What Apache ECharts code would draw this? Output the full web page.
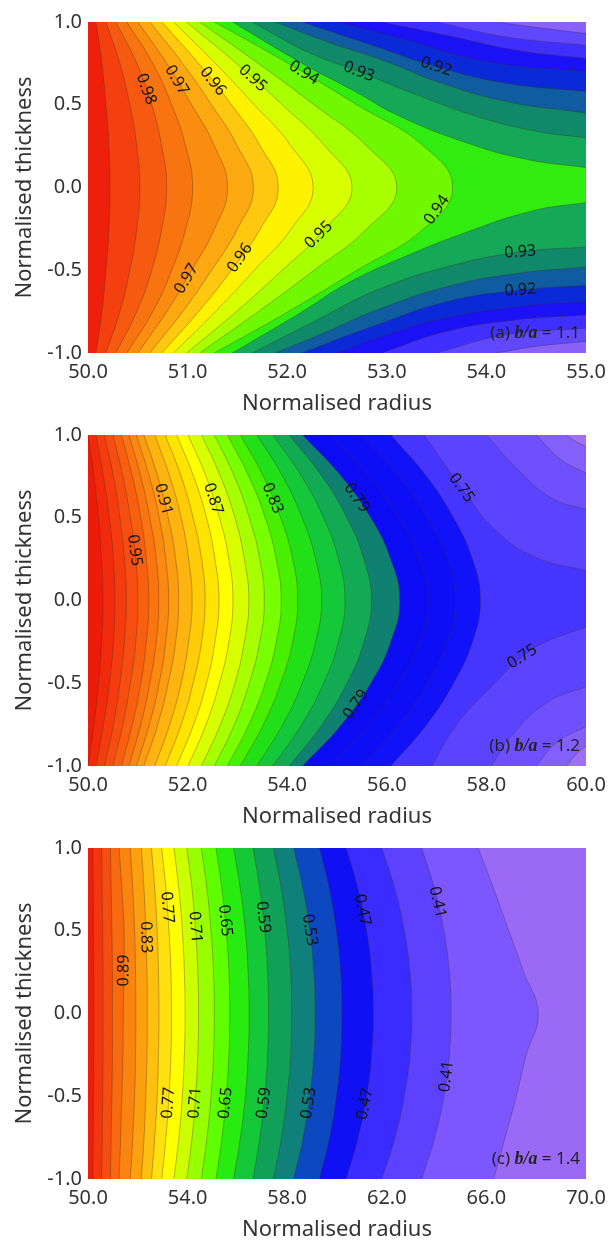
<!DOCTYPE html>
<html><head><meta charset="utf-8">
<script src="https://cdn.jsdelivr.net/npm/echarts@6/dist/echarts.min.js"></script>
<style>html,body{margin:0;padding:0;background:#fff}#c{width:609px;height:1247px}</style>
</head><body><div id="c"></div>
<script>
// ---------- data ----------
const yRows = [1, 0.75, 0.5, 0.25, 0, -0.25, -0.5, -0.75, -1];
const yTicks = [-1, -0.5, 0, 0.5, 1];

// (a) b/a = 1.1
const xTicksA = [50, 51, 52, 53, 54, 55];
const levelsA = [0.99, 0.985, 0.98, 0.975, 0.97, 0.965, 0.96, 0.955, 0.95, 0.945, 0.94, 0.935, 0.93, 0.925, 0.92, 0.915, 0.91, 0.905, 0.90];
const linesA = [
  [50.08, 50.14, 50.18, 50.21, 50.22, 50.21, 50.18, 50.14, 50.08],
  [50.18, 50.32, 50.42, 50.49, 50.52, 50.49, 50.42, 50.32, 50.18],
  [50.28, 50.49, 50.64, 50.74, 50.79, 50.74, 50.64, 50.49, 50.28],
  [50.39, 50.65, 50.84, 50.98, 51.05, 50.98, 50.84, 50.65, 50.39],
  [50.50, 50.79, 51.04, 51.27, 51.40, 51.27, 51.04, 50.79, 50.50],
  [50.62, 50.95, 51.24, 51.50, 51.66, 51.50, 51.24, 50.95, 50.62],
  [50.74, 51.11, 51.44, 51.73, 51.91, 51.73, 51.44, 51.11, 50.74],
  [50.86, 51.28, 51.67, 52.04, 52.26, 52.04, 51.67, 51.28, 50.86],
  [50.99, 51.49, 51.95, 52.38, 52.65, 52.38, 51.95, 51.49, 50.99],
  [51.12, 51.71, 52.27, 52.80, 53.10, 52.80, 52.27, 51.71, 51.12],
  [51.27, 52.01, 52.70, 53.37, 53.66, 53.37, 52.70, 52.01, 51.27],
  [[[51.45, 1], [52.15, 0.75], [52.65, 0.59], [53.13, 0.43], [53.8, 0.27], [54.4, 0.17], [55, 0.12]],
   [[55, -0.09], [54.47, -0.14], [53.8, -0.27], [53.13, -0.43], [52.6, -0.58], [52.15, -0.75], [51.45, -1]]],
  [[[51.65, 1], [52.2, 0.82], [52.72, 0.70], [53.3, 0.56], [53.9, 0.43], [54.5, 0.34], [55, 0.30]],
   [[55, -0.36], [54.34, -0.39], [53.6, -0.48], [52.9, -0.62], [52.3, -0.8], [51.65, -1]]],
  [[[51.88, 1], [52.4, 0.88], [53.0, 0.76], [53.5, 0.64], [54.2, 0.52], [55, 0.45]],
   [[55, -0.48], [54.3, -0.52], [53.6, -0.60], [52.9, -0.74], [52.4, -0.87], [51.88, -1]]],
  [[[52.15, 1], [52.8, 0.87], [53.5, 0.73], [54.2, 0.63], [55, 0.58]],
   [[55, -0.59], [54.34, -0.62], [53.6, -0.69], [52.9, -0.83], [52.15, -1]]],
  [[[52.5, 1], [53.2, 0.89], [54.0, 0.76], [55, 0.70]],
   [[55, -0.69], [54.3, -0.72], [53.5, -0.80], [52.9, -0.91], [52.5, -1]]],
  [[[52.95, 1], [53.6, 0.92], [54.3, 0.83], [55, 0.78]],
   [[55, -0.77], [54.3, -0.80], [53.6, -0.87], [52.95, -1]]],
  [[[53.5, 1], [54.2, 0.91], [55, 0.86]],
   [[55, -0.85], [54.2, -0.89], [53.5, -1]]],
  [[[54.1, 1], [54.6, 0.96], [55, 0.93]],
   [[55, -0.93], [54.5, -0.96], [54.1, -1]]]
];
const labelsA = [['0.98', 50.52, 0.58], ['0.97', 50.84, 0.63], ['0.96', 51.23, 0.63], ['0.95', 51.64, 0.65],
  ['0.94', 52.15, 0.675], ['0.93', 52.72, 0.70], ['0.92', 53.49, 0.72], ['0.97', 50.93, -0.53],
  ['0.96', 51.56, -0.44], ['0.95', 52.37, -0.32], ['0.94', 53.53, -0.147], ['0.93', 54.34, -0.39], ['0.92', 54.34, -0.61]];

// (b) b/a = 1.2
const xTicksB = [50, 52, 54, 56, 58, 60];
const levelsB = [0.98, 0.97, 0.96, 0.95, 0.94, 0.93, 0.92, 0.91, 0.90, 0.89, 0.88, 0.87, 0.86, 0.85, 0.84, 0.83, 0.82, 0.81, 0.80, 0.79, 0.78, 0.77, 0.76, 0.75, 0.74, 0.73, 0.72];
const linesB = [
  [50.00, 50.12, 50.21, 50.27, 50.30, 50.27, 50.21, 50.12, 50.00],
  [50.16, 50.31, 50.43, 50.51, 50.54, 50.51, 50.43, 50.31, 50.16],
  [50.33, 50.51, 50.64, 50.73, 50.77, 50.73, 50.64, 50.51, 50.33],
  [50.50, 50.70, 50.85, 50.96, 51.00, 50.96, 50.85, 50.70, 50.50],
  [50.67, 50.89, 51.06, 51.17, 51.22, 51.17, 51.06, 50.89, 50.67],
  [50.82, 51.06, 51.24, 51.37, 51.42, 51.37, 51.24, 51.06, 50.82],
  [50.97, 51.23, 51.43, 51.56, 51.62, 51.56, 51.43, 51.23, 50.97],
  [51.12, 51.40, 51.61, 51.76, 51.82, 51.76, 51.61, 51.40, 51.12],
  [51.34, 51.64, 51.87, 52.02, 52.09, 52.02, 51.87, 51.64, 51.34],
  [51.55, 51.87, 52.11, 52.28, 52.35, 52.28, 52.11, 51.87, 51.55],
  [51.78, 52.12, 52.38, 52.55, 52.63, 52.55, 52.38, 52.12, 51.78],
  [52.01, 52.37, 52.64, 52.83, 52.91, 52.83, 52.64, 52.37, 52.01],
  [52.28, 52.66, 52.95, 53.14, 53.23, 53.14, 52.95, 52.66, 52.28],
  [52.54, 52.94, 53.24, 53.45, 53.54, 53.45, 53.24, 52.94, 52.54],
  [52.80, 53.23, 53.56, 53.78, 53.88, 53.78, 53.56, 53.23, 52.80],
  [53.06, 53.52, 53.87, 54.11, 54.21, 54.11, 53.87, 53.52, 53.06],
  [53.39, 53.91, 54.30, 54.57, 54.69, 54.57, 54.30, 53.91, 53.39],
  [53.71, 54.29, 54.73, 55.03, 55.16, 55.03, 54.73, 54.29, 53.71],
  [54.04, 54.70, 55.20, 55.54, 55.69, 55.54, 55.20, 54.70, 54.04],
  [54.31, 55.09, 55.68, 56.08, 56.26, 56.08, 55.68, 55.09, 54.31],
  [54.83, 55.63, 56.23, 56.65, 56.83, 56.65, 56.23, 55.63, 54.83],
  [55.48, 56.24, 56.81, 57.21, 57.38, 57.21, 56.81, 56.24, 55.48],
  [56.08, 56.80, 57.34, 57.72, 57.88, 57.72, 57.34, 56.80, 56.08],
  [[[56.75, 1], [57.1, 0.85], [57.5, 0.68], [58.2, 0.42], [59.0, 0.26], [60, 0.18]],
   [[60, -0.16], [59.2, -0.25], [58.72, -0.34], [58.1, -0.52], [57.4, -0.75], [56.9, -1]]],
  [[[58.0, 1], [58.6, 0.80], [59.3, 0.62], [60, 0.55]],
   [[60, -0.52], [59.2, -0.62], [58.5, -0.82], [58.1, -1]]],
  [[[59.0, 1], [59.5, 0.85], [60, 0.77]],
   [[60, -0.76], [59.4, -0.86], [59.0, -1]]],
  [[[59.6, 1], [59.8, 0.96], [60, 0.93]],
   [[60, -0.88], [59.8, -0.93], [59.6, -1]]]
];
const labelsB = [['0.95', 50.86, 0.30], ['0.91', 51.50, 0.61], ['0.87', 52.47, 0.61], ['0.83', 53.65, 0.61],
  ['0.79', 55.30, 0.60], ['0.75', 57.50, 0.68], ['0.79', 55.25, -0.60], ['0.75', 58.72, -0.34]];

// (c) b/a = 1.4
const xTicksC = [50, 54, 58, 62, 66, 70];
const levelsC = [0.98, 0.95, 0.92, 0.89, 0.86, 0.83, 0.80, 0.77, 0.74, 0.71, 0.68, 0.65, 0.62, 0.59, 0.56, 0.53, 0.50, 0.47, 0.44, 0.41, 0.38];
const linesC = [
  [50.20, 50.21, 50.22, 50.23, 50.23, 50.23, 50.22, 50.21, 50.20],
  [50.55, 50.57, 50.59, 50.60, 50.60, 50.60, 50.59, 50.57, 50.55],
  [50.90, 50.93, 50.96, 50.98, 50.98, 50.98, 50.96, 50.93, 50.90],
  [51.25, 51.36, 51.45, 51.44, 51.42, 51.40, 51.36, 51.31, 51.25],
  [51.70, 51.80, 51.87, 51.91, 51.92, 51.91, 51.87, 51.80, 51.70],
  [52.14, 52.25, 52.32, 52.37, 52.38, 52.37, 52.32, 52.25, 52.14],
  [52.55, 52.68, 52.78, 52.83, 52.85, 52.83, 52.78, 52.68, 52.55],
  [52.96, 53.13, 53.25, 53.33, 53.35, 53.33, 53.25, 53.13, 52.96],
  [53.45, 53.65, 53.79, 53.87, 53.90, 53.87, 53.79, 53.65, 53.45],
  [53.97, 54.18, 54.32, 54.41, 54.44, 54.41, 54.32, 54.18, 53.97],
  [54.55, 54.78, 54.94, 55.04, 55.07, 55.04, 54.94, 54.78, 54.55],
  [55.14, 55.38, 55.55, 55.66, 55.69, 55.66, 55.55, 55.38, 55.14],
  [55.85, 56.12, 56.32, 56.43, 56.47, 56.43, 56.32, 56.12, 55.85],
  [56.63, 56.90, 57.10, 57.21, 57.25, 57.21, 57.10, 56.90, 56.63],
  [57.45, 57.77, 58.00, 58.14, 58.18, 58.14, 58.00, 57.77, 57.45],
  [58.26, 58.64, 58.91, 59.07, 59.12, 59.07, 58.91, 58.64, 58.26],
  [59.30, 59.70, 59.98, 60.15, 60.20, 60.15, 59.98, 59.70, 59.30],
  [60.37, 60.85, 61.19, 61.39, 61.46, 61.39, 61.19, 60.85, 60.37],
  [61.80, 62.33, 62.70, 62.93, 63.00, 62.93, 62.70, 62.33, 61.80],
  [63.40, 63.92, 64.29, 64.51, 64.58, 64.51, 64.29, 63.92, 63.40],
  [65.67, 66.30, 66.90, 67.50, 68.08, 67.60, 67.20, 66.75, 66.29]
];
const labelsC = [['0.89', 51.40, 0.26], ['0.83', 52.26, 0.46], ['0.77', 53.12, 0.64], ['0.71', 54.21, 0.52],
  ['0.65', 55.46, 0.56], ['0.59', 56.94, 0.58], ['0.53', 58.73, 0.50], ['0.47', 60.83, 0.62], ['0.41', 63.95, 0.67],
  ['0.77', 53.2, -0.54], ['0.71', 54.29, -0.54], ['0.65', 55.46, -0.54], ['0.59', 57.01, -0.54],
  ['0.53', 58.81, -0.54], ['0.47', 60.91, -0.54], ['0.41', 64.42, -0.38]];

const panelTags = [['(a) ', 'b/a', ' = 1.1'], ['(b) ', 'b/a', ' = 1.2'], ['(c) ', 'b/a', ' = 1.4']];

// ---------- styles ----------
const colorsA = ['#ee200c', '#f4400e', '#f65a10', '#f87410', '#fa8c10', '#fca810', '#fec810', '#fff200', '#d8ff00', '#a8ff00',
  '#70f800', '#30ec10', '#14a858', '#10886a', '#0f5ca0', '#0a2ad8', '#1a12f5', '#4030ff', '#6048ff', '#8a62fa'];
const colorsB = ['#ee1a0a', '#f22a0c', '#f43c0e', '#f64e10', '#f86010', '#fa7410', '#fb8810', '#fc9c10', '#fdb410', '#fecc08',
  '#ffe400', '#ffff00', '#d8ff00', '#a8ff00', '#78ff00', '#48f000', '#22e018', '#14c83a', '#12aa52', '#108070',
  '#0c0cf4', '#0e0ef6', '#1212f8', '#4634ff', '#5a44ff', '#6e50ff', '#8460fa', '#a070f2'];
const colorsC = ['#ee1e0c', '#f2360e', '#f54e10', '#f86a10', '#fa8410', '#fca010', '#fec010', '#ffe010', '#ffff00', '#ccff00',
  '#98ff00', '#60ff00', '#28ec10', '#14c838', '#10a058', '#10807a', '#0c48c0', '#1010f4', '#3a2cff', '#5c42ff', '#7c56ff', '#9a6af6'];

const FONT = '"Noto Sans", "DejaVu Sans", sans-serif';
const SMOOTH = 0.45;
const GRID_TOPS = [22, 435, 848];
const GRID_H = 331, GRID_L = 88, GRID_W = 498;

const panels = [
  { xmin: 50, xmax: 55, ticks: xTicksA, levels: levelsA, lines: linesA, labels: labelsA, colors: colorsA },
  { xmin: 50, xmax: 60, ticks: xTicksB, levels: levelsB, lines: linesB, labels: labelsB, colors: colorsB },
  { xmin: 50, xmax: 70, ticks: xTicksC, levels: levelsC, lines: linesC, labels: labelsC, colors: colorsC }
];

function toBranches(line) {
  return typeof line[0] === 'number' ? [line.map((x, i) => [x, yRows[i]])] : line;
}
function ext(a, b) { return [2 * a[0] - b[0], 2 * a[1] - b[1]]; }
function pixBranches(line, api) {
  return toBranches(line).map(b => {
    const p = b.map(q => api.coord(q));
    return [ext(p[0], p[1])].concat(p, [ext(p[p.length - 1], p[p.length - 2])]);
  });
}

const grids = [], xAxes = [], yAxes = [], series = [], graphics = [];
panels.forEach((P, gi) => {
  const top = GRID_TOPS[gi];
  const n = P.levels.length;
  grids.push({ left: GRID_L, top: top, width: GRID_W, height: GRID_H, show: true, borderWidth: 0, backgroundColor: P.colors[n] });
  xAxes.push({
    type: 'value', gridIndex: gi, min: P.xmin, max: P.xmax,
    name: 'Normalised radius', nameLocation: 'middle', nameGap: 40,
    nameTextStyle: { fontFamily: FONT, fontSize: 22, color: '#333' },
    axisLine: { show: false }, axisTick: { show: false }, splitLine: { show: false },
    axisLabel: { customValues: P.ticks, formatter: v => v.toFixed(1), fontFamily: FONT, fontSize: 20, color: '#333', margin: 9 }
  });
  yAxes.push({
    type: 'value', gridIndex: gi, min: -1, max: 1,
    name: 'Normalised thickness', nameLocation: 'middle', nameGap: 52,
    nameTextStyle: { fontFamily: FONT, fontSize: 22, color: '#333' },
    axisLine: { show: false }, axisTick: { show: false }, splitLine: { show: false },
    axisLabel: { customValues: yTicks, formatter: v => v.toFixed(1), fontFamily: FONT, fontSize: 20, color: '#333', margin: 6 }
  });
  const order = P.levels.map((_, i) => n - 1 - i);
  series.push({
    type: 'custom', xAxisIndex: gi, yAxisIndex: gi, clip: true, silent: true, z: 2,
    data: order.map(i => [P.xmin, 0, i]),
    renderItem(params, api) {
      const li = order[params.dataIndex];
      const brs = pixBranches(P.lines[li], api);
      const span = P.xmax - P.xmin;
      const pts = [api.coord([P.xmin - span, 4])];
      brs.forEach(b => b.forEach(q => pts.push(q)));
      pts.push(api.coord([P.xmin - span, -4]));
      return { type: 'polygon', shape: { points: pts, smooth: SMOOTH }, style: { fill: P.colors[li], stroke: null } };
    }
  });
  series.push({
    type: 'custom', xAxisIndex: gi, yAxisIndex: gi, clip: true, silent: true, z: 3,
    data: order.map(i => [P.xmin, 0, i]),
    renderItem(params, api) {
      const li = order[params.dataIndex];
      const brs = pixBranches(P.lines[li], api);
      return {
        type: 'group',
        children: brs.map(b => ({ type: 'polyline', shape: { points: b, smooth: SMOOTH },
          style: { fill: null, stroke: 'rgba(70,45,30,0.38)', lineWidth: 0.9 } }))
      };
    }
  });
  series.push({
    type: 'custom', xAxisIndex: gi, yAxisIndex: gi, clip: false, silent: true, z: 4,
    data: P.labels.map(l => [l[1], l[2]]),
    renderItem(params, api) {
      const lab = P.labels[params.dataIndex];
      const li = P.levels.findIndex(v => Math.abs(v - parseFloat(lab[0])) < 1e-9);
      const c = api.coord([lab[1], lab[2]]);
      let best = null, bd = Infinity;
      toBranches(P.lines[li]).forEach(b => {
        const p = b.map(q => api.coord(q));
        for (let i = 0; i < p.length - 1; i++) {
          const ax = p[i][0], ay = p[i][1], bx = p[i + 1][0], by = p[i + 1][1];
          const dx = bx - ax, dy = by - ay;
          const L2 = dx * dx + dy * dy || 1;
          let t = ((c[0] - ax) * dx + (c[1] - ay) * dy) / L2;
          t = Math.max(0, Math.min(1, t));
          const px = ax + t * dx, py = ay + t * dy;
          const d = Math.hypot(px - c[0], py - c[1]);
          if (d < bd) { bd = d; best = { x: px, y: py, dx: dx, dy: dy }; }
        }
      });
      let ang = Math.atan2(-best.dy, best.dx);
      if (ang > Math.PI / 2) ang -= Math.PI;
      if (ang <= -Math.PI / 2) ang += Math.PI;
      return { type: 'text', x: best.x, y: best.y, rotation: ang,
        style: { text: lab[0], fill: '#141414', font: '16px ' + FONT, align: 'center', verticalAlign: 'middle' } };
    }
  });
  const tag = panelTags[gi];
  graphics.push({
    type: 'text', right: 609 - (GRID_L + GRID_W) + 6, top: top + 302, z: 10,
    style: {
      text: '{n|' + tag[0] + '}{i|' + tag[1] + '}{n|' + tag[2] + '}',
      rich: {
        n: { fontFamily: FONT, fontSize: 17, fill: '#222' },
        i: { fontFamily: '"Liberation Serif", "DejaVu Serif", serif', fontStyle: 'italic', fontWeight: 'bold', fontSize: 18, fill: '#222' }
      }
    }
  });
});

const chart = echarts.init(document.getElementById('c'), null, { renderer: 'canvas' });
chart.setOption({
  animation: false,
  backgroundColor: '#fff',
  grid: grids, xAxis: xAxes, yAxis: yAxes, series: series, graphic: graphics
});
</script></body></html>
